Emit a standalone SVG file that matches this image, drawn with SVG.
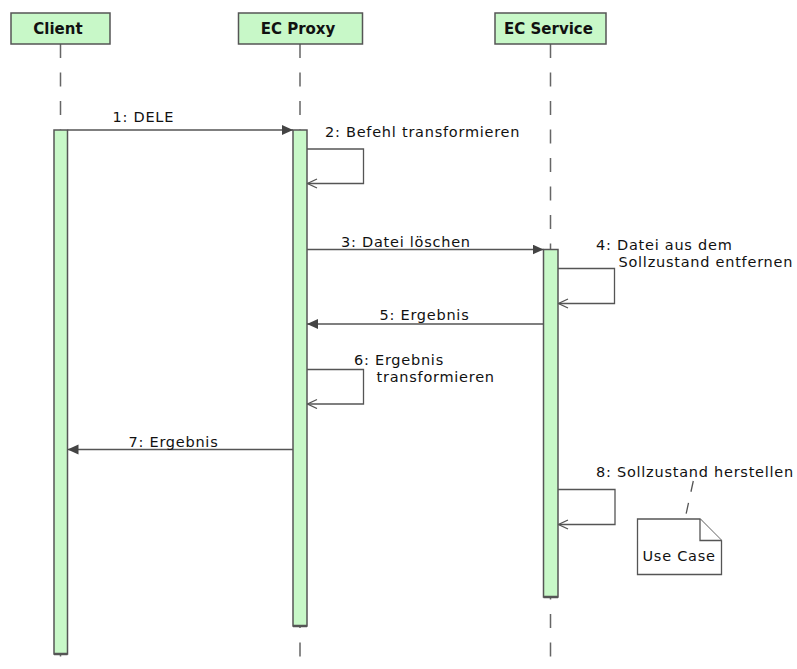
<svg xmlns="http://www.w3.org/2000/svg" width="797" height="669" viewBox="0 0 797 669">
  <style>
    .head { fill: #c8f8c8; stroke: #555; stroke-width: 1.5; }
    .headtxt { font-family: "DejaVu Sans", Verdana, sans-serif; font-weight: bold; font-size: 15px; fill: #111; text-anchor: middle; }
    .life { stroke: #666; stroke-width: 1.5; stroke-dasharray: 14 14.5; fill: none; }
    .act { fill: #c8f8c8; stroke: #555; stroke-width: 1.5; }
    .actbase { stroke: #555; stroke-width: 2.5; }
    .msg { stroke: #555; stroke-width: 1.3; fill: none; }
    .lbl { font-family: "DejaVu Sans", Verdana, sans-serif; font-size: 14.5px; letter-spacing: 0.75px; fill: #111; }
    .note { fill: #fff; stroke: #555; stroke-width: 1.3; }
    .notelink { stroke: #555; stroke-width: 1.3; stroke-dasharray: 11 11.5; fill: none; }
  </style>
  <defs>
    <marker id="filled" markerUnits="userSpaceOnUse" markerWidth="12" markerHeight="11" refX="11" refY="5" orient="auto">
      <path d="M0,0 L11,5 L0,10 z" fill="#444"/>
    </marker>
    <marker id="open" markerUnits="userSpaceOnUse" markerWidth="11" markerHeight="11" refX="10" refY="5" orient="auto">
      <path d="M0.5,0.5 L10,5 L0.5,9.5" fill="none" stroke="#555" stroke-width="1.3"/>
    </marker>
  </defs>

  <rect width="797" height="669" fill="#fff"/>

  <!-- lifelines -->
  <g id="lifelines">
    <line class="life" x1="60.5" y1="44" x2="60.5" y2="658"/>
    <line class="life" x1="300" y1="44" x2="300" y2="658"/>
    <line class="life" x1="550.5" y1="44" x2="550.5" y2="658"/>
  </g>

  <!-- participants -->
  <g id="client">
    <rect class="head" x="11" y="13" width="99" height="31"/>
    <text class="headtxt" x="58" y="33.5">Client</text>
    <rect class="act" x="54" y="130" width="13.5" height="524"/>
    <line class="actbase" x1="54" y1="654" x2="67.5" y2="654"/>
  </g>
  <g id="ec-proxy">
    <rect class="head" x="238.5" y="13" width="124" height="31"/>
    <text class="headtxt" x="298" y="33.5">EC Proxy</text>
    <rect class="act" x="293" y="130" width="14" height="496"/>
    <line class="actbase" x1="293" y1="626" x2="307" y2="626"/>
  </g>
  <g id="ec-service">
    <rect class="head" x="495" y="13" width="111" height="31"/>
    <text class="headtxt" x="548.5" y="33.5">EC Service</text>
    <rect class="act" x="543.5" y="249.5" width="14.5" height="347.5"/>
    <line class="actbase" x1="543.5" y1="597" x2="558" y2="597"/>
  </g>

  <!-- note -->
  <g id="note-use-case">
    <path class="note" d="M637.5,519 L700,519 L721.5,540.5 L721.5,574.5 L637.5,574.5 Z"/>
    <path class="note" d="M700,519 L700,540.5 L721.5,540.5" fill="none"/>
    <text class="lbl" x="642.5" y="560.5">Use Case</text>
  </g>

  <!-- messages -->
  <g id="connectors">
    <line class="msg" x1="67.5" y1="130" x2="293" y2="130" marker-end="url(#filled)"/>
    <polyline class="msg" points="307,149 363.5,149 363.5,183.5 307.5,183.5" marker-end="url(#open)"/>
    <line class="msg" x1="307" y1="249.5" x2="543.5" y2="249.5" marker-end="url(#filled)"/>
    <polyline class="msg" points="558,268.5 614.5,268.5 614.5,303.5 558.5,303.5" marker-end="url(#open)"/>
    <line class="msg" x1="543.5" y1="324" x2="307" y2="324" marker-end="url(#filled)"/>
    <polyline class="msg" points="307,369.5 363.5,369.5 363.5,404 307.5,404" marker-end="url(#open)"/>
    <line class="msg" x1="293" y1="449.5" x2="67.5" y2="449.5" marker-end="url(#filled)"/>
    <polyline class="msg" points="558,489.5 615,489.5 615,524.5 558.5,524.5" marker-end="url(#open)"/>
    <line class="notelink" x1="693.3" y1="481" x2="685" y2="519"/>
  </g>

  <!-- message labels -->
  <g id="labels">
    <text class="lbl" x="112.5" y="121.5">1: DELE</text>
    <text class="lbl" x="325" y="136.5">2: Befehl transformieren</text>
    <text class="lbl" x="341" y="246.5">3: Datei löschen</text>
    <text class="lbl" x="596" y="250">4: Datei aus dem</text>
    <text class="lbl" x="618.5" y="267">Sollzustand entfernen</text>
    <text class="lbl" x="379.5" y="320">5: Ergebnis</text>
    <text class="lbl" x="354" y="364.5">6: Ergebnis</text>
    <text class="lbl" x="376.5" y="381.5">transformieren</text>
    <text class="lbl" x="128.5" y="446.5">7: Ergebnis</text>
    <text class="lbl" x="596" y="476.5">8: Sollzustand herstellen</text>
  </g>
</svg>
